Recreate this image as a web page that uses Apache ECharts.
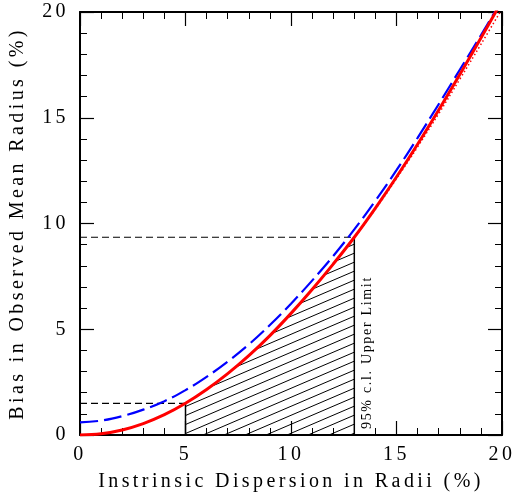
<!DOCTYPE html>
<html><head><meta charset="utf-8">
<script src="https://cdn.jsdelivr.net/npm/echarts@6/dist/echarts.min.js"></script>
<style>html,body{margin:0;padding:0;background:#fff}#c{width:516px;height:495px}</style>
</head><body><div id="c"></div>
<script>
const xValues   = [0,1,2,3,4,5,6,7,8,9,10,11,12,13,14,15,16,17,18,19,20];
const redSolid  = [0,0.06,0.24,0.54,0.96,1.5,2.15,2.90,3.75,4.70,5.75,6.88,8.08,9.35,10.73,12.20,13.75,15.37,17.05,18.77,20.53];
const redDotted = [0,0.06,0.24,0.54,0.96,1.5,2.15,2.90,3.75,4.70,5.75,6.88,8.08,9.33,10.68,12.12,13.62,15.19,16.82,18.47,20.15];
const blueDashed= [0.6,0.68,0.89,1.2,1.6,2.12,2.75,3.47,4.28,5.2,6.21,7.3,8.46,9.72,11.08,12.52,14.05,15.64,17.27,18.90,20.58];
const xTicks = [0,5,10,15,20];
const limitLowX = 5, limitHighX = 13;
const annotation = '95% c.l. Upper Limit';
const xTitle = 'Instrinsic Dispersion in Radii (%)';
const yTitle = 'Bias in Observed Mean Radius (%)';

const FONT = 'Liberation Serif';

// wide letter spacing, like the plotting font of the original
(function(){
  const proto = CanvasRenderingContext2D.prototype;
  const orig = proto.fillText;
  proto.fillText = function(t, x, y, m){
    let prev;
    if (/Serif/.test(this.font) && 'letterSpacing' in this) {
      prev = this.letterSpacing;
      const px = parseFloat((this.font.match(/([\d.]+)px/) || [0, 16])[1]);
      this.letterSpacing = (px * (px < 16 ? 0.12 : 0.17)).toFixed(2) + 'px';
    }
    const r = m === undefined ? orig.call(this, t, x, y) : orig.call(this, t, x, y, m);
    if (prev !== undefined) this.letterSpacing = prev;
    return r;
  };
})();

const pts = arr => xValues.map((x,i)=>[x, arr[i]]);
const yAt = x => redSolid[xValues.indexOf(x)];

function hatch(){
  const W=21,H=9;
  const c=document.createElement('canvas'); c.width=W; c.height=H;
  const g=c.getContext('2d'); g.strokeStyle='#000'; g.lineWidth=1;
  for(const dx of [-W,0,W]) for(const dy of [-H,0,H]){
    g.beginPath(); g.moveTo(dx,H+dy); g.lineTo(W+dx,dy); g.stroke();
  }
  return c;
}

const tickStep = xTicks[1]-xTicks[0];
const axisBase = (extra) => Object.assign({
  type:'value', min:xTicks[0], max:xTicks[xTicks.length-1], interval:tickStep,
  axisLine:{onZero:false, lineStyle:{color:'#000', width:2}},
  axisTick:{inside:true, length:14, lineStyle:{color:'#000', width:1.2}},
  minorTick:{show:true, splitNumber:5, length:7, lineStyle:{color:'#000', width:1}},
  splitLine:{show:false},
  axisLabel:{show:false}
}, extra);

const labelStyle = {show:true, fontFamily:FONT, fontSize:20, color:'#000'};

const chart = echarts.init(document.getElementById('c'));
const hatchData = pts(redSolid).filter(p => p[0]>=limitLowX && p[0]<=limitHighX);
const y1 = yAt(limitLowX), y2 = yAt(limitHighX);

chart.setOption({
  animation:false,
  backgroundColor:'#fff',
  grid:{left:80, right:14, top:12, bottom:60, containLabel:false, outerBoundsMode:'none'},
  xAxis:[
    axisBase({position:'bottom', axisLabel:Object.assign({margin:10}, labelStyle),
      name:xTitle, nameLocation:'middle', nameGap:37,
      nameTextStyle:{fontFamily:FONT, fontSize:20, color:'#000'}}),
    axisBase({position:'top'})
  ],
  yAxis:[
    axisBase({position:'left', axisLabel:Object.assign({margin:11}, labelStyle),
      name:yTitle, nameLocation:'middle', nameGap:52,
      nameTextStyle:{fontFamily:FONT, fontSize:20, color:'#000'}}),
    axisBase({position:'right'})
  ],
  series:[
    {type:'line', data:hatchData, smooth:0.4, symbol:'none', lineStyle:{width:0, opacity:0},
     areaStyle:{color:{image:hatch(), repeat:'repeat'}, opacity:1}, z:1},
    {type:'line', data:[[limitLowX,0],[limitLowX,y1]], symbol:'none', lineStyle:{color:'#000', width:1.5}, z:2},
    {type:'line', data:[[limitHighX,0],[limitHighX,y2]], symbol:'none', lineStyle:{color:'#000', width:1.5}, z:2},
    {type:'line', data:[[0,y1],[limitLowX,y1]], symbol:'none', lineStyle:{color:'#000', width:1.2, type:[7,4]}, z:2},
    {type:'line', data:[[0,y2],[limitHighX,y2]], symbol:'none', lineStyle:{color:'#000', width:1.2, type:[7,4]}, z:2},
    {type:'line', data:pts(blueDashed), smooth:0.4, symbol:'none', lineStyle:{color:'#0000ff', width:2.2, type:[18,6]}, z:3},
    {type:'line', data:pts(redDotted), smooth:0.4, symbol:'none', lineStyle:{color:'#ff0000', width:1.5, type:[1.5,2.5]}, z:4},
    {type:'line', data:pts(redSolid), smooth:0.4, symbol:'none', lineStyle:{color:'#ff0000', width:3}, z:5}
  ]
});

const p = chart.convertToPixel({gridIndex:0}, [limitHighX, 0]);
chart.setOption({
  graphic:[{type:'text', x:p[0]+13.5, y:p[1]-6, rotation:Math.PI/2,
    style:{text:annotation, fontFamily:FONT, fontSize:14, fill:'#000', textAlign:'left', textVerticalAlign:'middle'}}]
});
</script>
</body></html>
